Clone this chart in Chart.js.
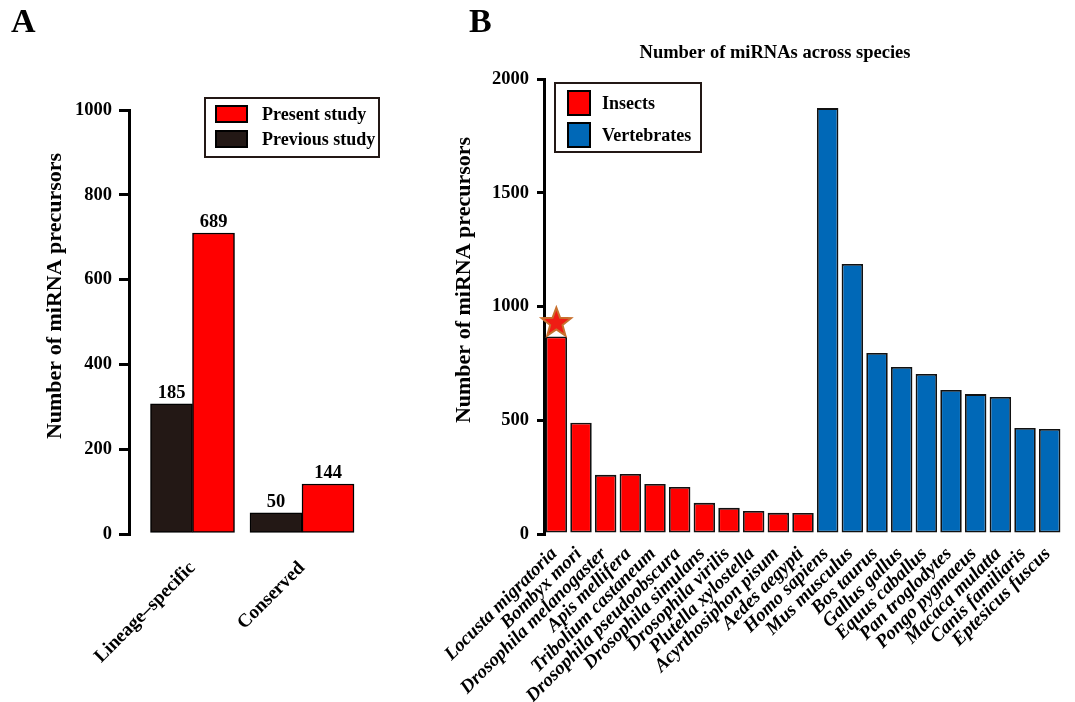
<!DOCTYPE html>
<html>
<head>
<meta charset="utf-8">
<script src="https://cdn.jsdelivr.net/npm/chart.js@4.4.0/dist/chart.umd.min.js"></script>
<style>
  html, body { margin: 0; padding: 0; background: #fff; }
  body { width: 1075px; height: 702px; position: relative; overflow: hidden; }
  canvas { position: absolute; top: 0; }
  #chart-a { left: 0; }
  #chart-b { left: 430px; }
  .tag { position: absolute; top: 4px; z-index: 2; font: bold 34px/34px "Liberation Serif", "Times New Roman", serif; color: #000; }
</style>
</head>
<body>
<div class="tag" style="left:11px">A</div>
<div class="tag" style="left:469px">B</div>
<canvas id="chart-a" width="420" height="702"></canvas>
<canvas id="chart-b" width="645" height="702"></canvas>
<script>
// ---- panel A data
const groups = ['Lineage–specific', 'Conserved'];
const previousStudy = [307, 50];     // bar heights as drawn
const presentStudy = [710, 118];
const previousLabels = ['185', '50']; // numbers printed above bars
const presentLabels = ['689', '144'];
const ticksA = [0, 200, 400, 600, 800, 1000];

// ---- panel B data
const insects = ['Locusta migratoria', 'Bombyx mori', 'Drosophila melanogaster', 'Apis mellifera',
  'Tribolium castaneum', 'Drosophila pseudoobscura', 'Drosophila simulans', 'Drosophila virilis',
  'Plutella xylostella', 'Acyrthosiphon pisum', 'Aedes aegypti'];
const insectCounts = [868, 489, 260, 264, 220, 207, 137, 115, 101, 93, 92];
const vertebrates = ['Homo sapiens', 'Mus musculus', 'Bos taurus', 'Gallus gallus', 'Equus caballus',
  'Pan troglodytes', 'Pongo pygmaeus', 'Macaca mulatta', 'Canis familiaris', 'Eptesicus fuscus'];
const vertebrateCounts = [1872, 1187, 796, 734, 703, 633, 615, 602, 466, 462];
const ticksB = [0, 500, 1000, 1500, 2000];

const RED = '#ff0000';
const DARK = '#231815';
const BLUE = '#0068b7';
const serif = '"Liberation Serif", "Times New Roman", serif';

// legend in a framed box + axis titles, drawn on top of the chart
const decor = {
  id: 'decor',
  afterDraw(chart, args, opts) {
    const ctx = chart.ctx;
    ctx.save();
    if (opts.legend) {
      const L = opts.legend;
      ctx.lineWidth = 2;
      ctx.strokeStyle = '#231815';
      ctx.strokeRect(L.x, L.y, L.w, L.h);
      ctx.font = 'bold 18px ' + serif;
      ctx.textAlign = 'left';
      ctx.textBaseline = 'middle';
      L.items.forEach((it, i) => {
        const y = L.rows[i];
        ctx.fillStyle = it.color;
        ctx.fillRect(L.sx, y - L.sh / 2, L.sw, L.sh);
        ctx.strokeStyle = '#000';
        ctx.strokeRect(L.sx, y - L.sh / 2, L.sw, L.sh);
        ctx.fillStyle = '#000';
        ctx.fillText(it.text, L.tx, y + 1);
      });
    }
    if (opts.yTitle) {
      ctx.translate(opts.yTitle.x, opts.yTitle.y);
      ctx.rotate(-Math.PI / 2);
      ctx.font = 'bold 22px ' + serif;
      ctx.fillStyle = '#000';
      ctx.textAlign = 'center';
      ctx.textBaseline = 'middle';
      ctx.fillText(opts.yTitle.text, 0, 0);
      ctx.setTransform(1, 0, 0, 1, 0, 0);
    }
    if (opts.title) {
      ctx.font = 'bold 18.5px ' + serif;
      ctx.fillStyle = '#000';
      ctx.textAlign = 'center';
      ctx.textBaseline = 'middle';
      ctx.fillText(opts.title.text, opts.title.x, opts.title.y);
    }
    ctx.restore();
  }
};

// numbers above the bars of panel A
const barNumbers = {
  id: 'barNumbers',
  afterDatasetsDraw(chart) {
    const ctx = chart.ctx;
    ctx.save();
    ctx.font = 'bold 18.5px ' + serif;
    ctx.fillStyle = '#000';
    ctx.textAlign = 'center';
    ctx.textBaseline = 'alphabetic';
    chart.data.datasets.forEach((ds, i) => {
      chart.getDatasetMeta(i).data.forEach((bar, j) => {
        if (ds.data[j] == null) return;
        ctx.fillText(ds.numbers[j], bar.x, bar.y - 6);
      });
    });
    ctx.restore();
  }
};

// star over the first insect bar
const star = {
  id: 'star',
  afterDatasetsDraw(chart) {
    const bar = chart.getDatasetMeta(0).data[0];
    const ctx = chart.ctx;
    const cx = bar.x, cy = bar.y - 13.5, r = 15.5;
    ctx.save();
    ctx.beginPath();
    for (let k = 0; k < 10; k++) {
      const rad = k % 2 ? r * 0.42 : r;
      const a = -Math.PI / 2 + k * Math.PI / 5;
      ctx.lineTo(cx + rad * Math.cos(a), cy + rad * Math.sin(a));
    }
    ctx.closePath();
    ctx.fillStyle = '#f01c14';
    ctx.strokeStyle = '#c8702e';
    ctx.lineWidth = 2;
    ctx.fill();
    ctx.stroke();
    ctx.restore();
  }
};

const tickFont = { family: serif, size: 18.5, weight: 'bold' };

// ---- panel A: one dataset per series and group, so each group keeps its own bar width
const seriesA = [
  { label: 'Previous study', values: previousStudy, numbers: previousLabels, color: DARK },
  { label: 'Present study', values: presentStudy, numbers: presentLabels, color: RED }
];
const datasetsA = [];
groups.forEach((g, gi) => {
  seriesA.forEach(s => {
    datasetsA.push({
      label: s.label,
      data: groups.map((_, j) => (j === gi ? s.values[j] : null)),
      numbers: s.numbers,
      backgroundColor: s.color,
      borderColor: '#000',
      borderWidth: 1.5,
      borderSkipped: false,
      skipNull: true,
      barThickness: gi === 0 ? 42 : 52
    });
  });
});

new Chart(document.getElementById('chart-a'), {
  type: 'bar',
  data: { labels: groups.map((g, i) => i + 1), datasets: datasetsA },
  options: {
    responsive: false,
    animation: false,
    layout: { padding: { left: 0, top: 110, right: 30, bottom: 0 } },
    scales: {
      x: {
        type: 'linear',
        min: 0.42,
        max: 2.8036,
        offset: false,
        afterBuildTicks: s => { s.ticks = groups.map((g, i) => ({ value: i + 1 })); },
        afterFit: s => { s.height = 168; },
        grid: { display: false, drawTicks: false },
        border: { display: false },
        ticks: {
          autoSkip: false, minRotation: 45, maxRotation: 45, padding: 23,
          color: '#000', font: { family: serif, size: 19, weight: 'bold' },
          callback: v => groups[v - 1]
        }
      },
      y: {
        min: 0,
        max: 1000,
        afterBuildTicks: s => { s.ticks = ticksA.map(v => ({ value: v })); },
        afterFit: s => { s.width = 129; },
        grid: { drawOnChartArea: false, tickLength: 10, lineWidth: 3, color: '#000' },
        border: { width: 3, color: '#000' },
        ticks: { padding: 7, color: '#000', font: tickFont, callback: v => String(v) }
      }
    },
    plugins: {
      legend: { display: false },
      tooltip: { enabled: false },
      decor: {
        legend: {
          x: 205, y: 98, w: 174, h: 59, sx: 216, sw: 31, sh: 16, tx: 262, rows: [114, 139],
          items: [{ text: 'Present study', color: RED }, { text: 'Previous study', color: DARK }]
        },
        yTitle: { text: 'Number of miRNA precursors', x: 55, y: 296 }
      }
    }
  },
  plugins: [barNumbers, decor]
});

// ---- panel B
const species = insects.concat(vertebrates);
new Chart(document.getElementById('chart-b'), {
  type: 'bar',
  data: {
    labels: species,
    datasets: [
      { label: 'Insects', data: insectCounts.concat(vertebrates.map(() => null)), backgroundColor: RED },
      { label: 'Vertebrates', data: insects.map(() => null).concat(vertebrateCounts), backgroundColor: BLUE }
    ]
  },
  options: {
    responsive: false,
    animation: false,
    layout: { padding: { left: 0, top: 79, right: 8, bottom: 0 } },
    datasets: {
      bar: {
        grouped: false, barPercentage: 0.87, categoryPercentage: 1,
        borderColor: '#111', borderWidth: 1.8, borderSkipped: false
      }
    },
    scales: {
      x: {
        afterFit: s => { s.height = 168; },
        grid: { display: false, drawTicks: false },
        border: { display: false },
        ticks: {
          autoSkip: false, minRotation: 45, maxRotation: 45, padding: 9, labelOffset: -2,
          color: '#000', font: { family: serif, size: 19, weight: 'bold', style: 'italic' }
        }
      },
      y: {
        min: 0,
        max: 2000,
        afterBuildTicks: s => { s.ticks = ticksB.map(v => ({ value: v })); },
        afterFit: s => { s.width = 114; },
        grid: { drawOnChartArea: false, tickLength: 7, lineWidth: 3, color: '#000' },
        border: { width: 3, color: '#000' },
        ticks: { padding: 8, color: '#000', font: tickFont, callback: v => String(v) }
      }
    },
    plugins: {
      legend: { display: false },
      tooltip: { enabled: false },
      decor: {
        legend: {
          x: 125, y: 83, w: 146, h: 69, sx: 138, sw: 22, sh: 24, tx: 172, rows: [103, 135],
          items: [{ text: 'Insects', color: RED }, { text: 'Vertebrates', color: BLUE }]
        },
        yTitle: { text: 'Number of miRNA precursors', x: 34, y: 280 },
        title: { text: 'Number of miRNAs across species', x: 345, y: 53 }
      }
    }
  },
  plugins: [star, decor]
});
</script>
</body>
</html>
